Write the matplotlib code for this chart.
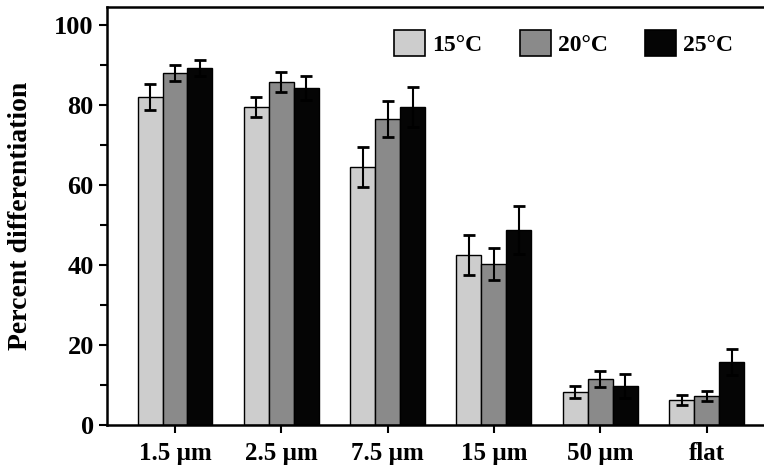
import numpy as np
import matplotlib.pyplot as plt
from matplotlib.ticker import MultipleLocator
from matplotlib.patches import Patch

# Data
categories = ['1.5 \u00b5m', '2.5 \u00b5m', '7.5 \u00b5m', '15 \u00b5m', '50 \u00b5m', 'flat']
series = ['15\u00b0C', '20\u00b0C', '25\u00b0C']

vals_15 = [82, 79.5, 64.5, 42.5, 8.3, 6.2]
err_15 = [3.3, 2.5, 5, 5, 1.5, 1.2]
vals_20 = [88, 85.7, 76.5, 40.2, 11.5, 7.2]
err_20 = [2, 2.5, 4.5, 4, 2, 1.3]
vals_25 = [89.3, 84.2, 79.5, 48.7, 9.7, 15.8]
err_25 = [2, 3, 5, 6, 3, 3.2]

plt.rcParams['font.family'] = 'Liberation Serif'
plt.rcParams['font.weight'] = 'bold'

fig = plt.figure(figsize=(7.64, 4.67), dpi=100)
ax = fig.add_axes([0.140, 0.090, 0.86, 0.895])

x = np.arange(len(categories))
width = 0.235
colors = ['#cdcdcd', '#8a8a8a', '#050505']
ekw = dict(ecolor='black', elinewidth=1.5, capsize=4, capthick=2)

ax.bar(x - width, vals_15, width, yerr=err_15, color=colors[0], edgecolor='black', linewidth=1, error_kw=ekw)
ax.bar(x, vals_20, width, yerr=err_20, color=colors[1], edgecolor='black', linewidth=1, error_kw=ekw)
ax.bar(x + width, vals_25, width, yerr=err_25, color=colors[2], edgecolor='black', linewidth=1, error_kw=ekw)

ax.set_xlim(-0.64, 5.54)
ax.set_ylim(0, 104.5)
ax.set_xticks(x)
ax.set_xticklabels(categories, fontsize=18)
ax.yaxis.set_major_locator(MultipleLocator(20))
ax.yaxis.set_minor_locator(MultipleLocator(10))
ax.tick_params(axis='both', which='major', direction='out', length=6, width=1.5)
ax.tick_params(axis='y', which='major', labelsize=19)
ax.tick_params(axis='y', which='minor', direction='out', length=5, width=1.5)
ax.tick_params(axis='x', pad=6)
for s in ['left', 'bottom', 'top']:
    ax.spines[s].set_linewidth(1.8)
ax.spines['right'].set_visible(False)

ax.set_ylabel('Percent differentiation', fontsize=20, fontweight='bold')
ax.yaxis.set_label_coords(-0.112, 0.5)

handles = [Patch(facecolor=c, edgecolor='black', linewidth=1.2) for c in colors]
ax.legend(handles, series, ncol=3, loc='upper left', bbox_to_anchor=(0.405, 0.995),
          frameon=False, handlelength=1.3, handleheight=1.3,
          handletextpad=0.3, columnspacing=1.6, prop={'weight': 'bold', 'size': 17})

fig.savefig('out.png', dpi=100)
